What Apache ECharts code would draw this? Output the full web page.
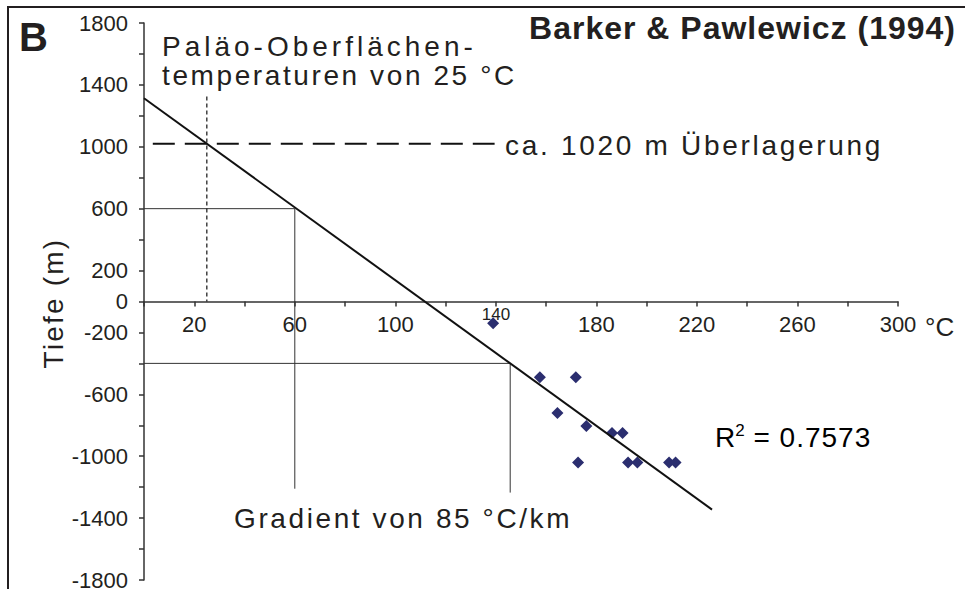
<!DOCTYPE html>
<html>
<head>
<meta charset="utf-8">
<script src="https://cdn.jsdelivr.net/npm/echarts@6/dist/echarts.min.js"></script>
<style>
  html, body { margin: 0; padding: 0; background: #fff; }
  #chart { width: 965px; height: 589px; }
</style>
</head>
<body>
<div id="chart"></div>
<script>
// measured samples: temperature (°C) vs. depth (m)
const tempC  = [138.9, 157.5, 171.8, 164.5, 176.0, 186.2, 190.4, 172.7, 192.6, 196.3, 208.9, 211.5];
const depthM = [-140, -490, -490, -720, -805, -850, -850, -1040, -1040, -1040, -1040, -1040];

// regression line (85 °C/km)
const trendT = [0, 226];
const trendD = [1314, -1345];

// guide lines
const guideUpperT = [0, 60, 60];
const guideUpperD = [600, 600, -1210];
const guideLowerT = [0, 145.7, 145.7];
const guideLowerD = [-400, -400, -1235];
const overburdenT = [3.5, 139.5];
const overburdenD = [1020, 1020];
const surfaceT = [25, 25];
const surfaceD = [1325, 0];

// tick labels that are shown
const xTickLabels = [20, 60, 100, 180, 220, 260, 300];
const yTickLabels = [1800, 1400, 1000, 600, 200, 0, -200, -600, -1000, -1400, -1800];

const FONT = "'Liberation Sans', Arial, sans-serif";
const INK = '#231f20';

const GRID = { left: 144, right: 67, top: 23, bottom: 9 };
const Y_MIN = -1800, Y_MAX = 1800;
// x axis sits on depth 0: shift it up from the grid bottom
const gridHeight = 589 - GRID.top - GRID.bottom;
const xAxisOffset = -gridHeight * (0 - Y_MIN) / (Y_MAX - Y_MIN);

const pairs = (xs, ys) => xs.map((x, i) => [x, ys[i]]);

const chart = echarts.init(document.getElementById('chart'), null, { renderer: 'svg' });

function lineSeries(xs, ys, width, type, color) {
    return {
        type: 'line',
        data: pairs(xs, ys),
        symbol: 'none',
        silent: true,
        z: 3,
        lineStyle: { color: color, width: width, type: type }
    };
}

let option = {
    animation: false,
    backgroundColor: '#fff',
    grid: Object.assign({ outerBoundsMode: 'none', containLabel: false }, GRID),
    xAxis: {
        type: 'value',
        min: 0,
        max: 300,
        interval: 20,
        offset: xAxisOffset,
        axisLine: { onZero: false, lineStyle: { color: '#333', width: 1.5 } },
        axisTick: { length: 5, lineStyle: { color: '#333', width: 1.5 } },
        axisLabel: {
            margin: 12,
            fontSize: 22,
            fontFamily: FONT,
            color: INK,
            formatter: v => xTickLabels.includes(v) ? String(v) : ''
        },
        splitLine: { show: false }
    },
    yAxis: {
        type: 'value',
        min: Y_MIN,
        max: Y_MAX,
        interval: 200,
        axisLine: { onZero: false, lineStyle: { color: '#333', width: 1.5 } },
        axisTick: { length: 5, lineStyle: { color: '#333', width: 1.5 } },
        axisLabel: {
            margin: 16,
            fontSize: 22,
            fontFamily: FONT,
            color: INK,
            formatter: v => yTickLabels.includes(v) ? String(v) : ''
        },
        splitLine: { show: false }
    },
    series: [
        lineSeries(guideUpperT, guideUpperD, 1, 'solid', '#333'),
        lineSeries(guideLowerT, guideLowerD, 1, 'solid', '#333'),
        lineSeries(overburdenT, overburdenD, 2, [22, 10], '#111'),
        lineSeries(surfaceT, surfaceD, 1.2, [4, 3], '#111'),
        {
            type: 'scatter',
            data: pairs(tempC, depthM),
            symbol: 'diamond',
            symbolSize: 12,
            z: 4,
            itemStyle: { color: '#2b2e6f', opacity: 1 }
        },
        Object.assign(lineSeries(trendT, trendD, 2, 'solid', '#111'), { z: 5 })
    ],
    graphic: [
        // frame (top and left edges)
        { type: 'line', shape: { x1: 7, y1: 7, x2: 965, y2: 7 }, style: { stroke: INK, lineWidth: 2 } },
        { type: 'line', shape: { x1: 8, y1: 7, x2: 8, y2: 589 }, style: { stroke: INK, lineWidth: 2 } },
        { type: 'text', x: 19, y: 37, style: { text: 'B', font: 'bold 40px ' + FONT, fill: INK, align: 'left', verticalAlign: 'middle' } },
        { type: 'text', x: 956, y: 28, style: { text: 'Barker & Pawlewicz (1994)', font: 'bold 32px ' + FONT, fill: INK, align: 'right', verticalAlign: 'middle' } },
        { type: 'text', x: 162, y: 46, style: { text: 'Paläo-Oberflächen-', font: '28px ' + FONT, fill: INK, align: 'left', verticalAlign: 'middle' } },
        { type: 'text', x: 162, y: 75, style: { text: 'temperaturen von 25 °C', font: '28px ' + FONT, fill: INK, align: 'left', verticalAlign: 'middle' } },
        { type: 'text', x: 505, y: 145, style: { text: 'ca. 1020 m Überlagerung', font: '28px ' + FONT, fill: INK, align: 'left', verticalAlign: 'middle' } },
        {
            type: 'text', x: 715, y: 437,
            style: {
                text: '{a|R}{s|2}{a| = 0.7573}',
                align: 'left', verticalAlign: 'middle',
                rich: {
                    a: { fontSize: 28, fontFamily: FONT, color: INK },
                    s: { fontSize: 17, fontFamily: FONT, color: INK, verticalAlign: 'top', padding: [0, 0, 14, 0] }
                }
            }
        },
        { type: 'text', x: 234, y: 518, style: { text: 'Gradient von 85 °C/km', font: '28px ' + FONT, fill: INK, align: 'left', verticalAlign: 'middle' } },
        { type: 'text', x: 925, y: 327, style: { text: '°C', font: '26px ' + FONT, fill: INK, align: 'left', verticalAlign: 'middle' } },
        { type: 'text', x: 496, y: 314, style: { text: '140', font: '17px ' + FONT, fill: INK, align: 'center', verticalAlign: 'middle' } },
        { type: 'text', x: 53, y: 303, rotation: Math.PI / 2, style: { text: 'Tiefe (m)', font: '28px ' + FONT, fill: INK, align: 'center', verticalAlign: 'middle' } }
    ]
};

chart.setOption(option);

// letter spacing of the annotation texts (SVG renderer)
const spacing = {
    'Paläo-Oberflächen-': 4.0,
    'temperaturen von 25 °C': 2.6,
    'ca. 1020 m Überlagerung': 2.7,
    'Gradient von 85 °C/km': 2.6,
    'Tiefe (m)': 2.2,
    'Barker & Pawlewicz (1994)': 1,
    ' = 0.7573': 1
};
chart.getDom().querySelectorAll('text').forEach(t => {
    const s = spacing[t.textContent];
    if (s) t.setAttribute('letter-spacing', s);
});
</script>
</body>
</html>
